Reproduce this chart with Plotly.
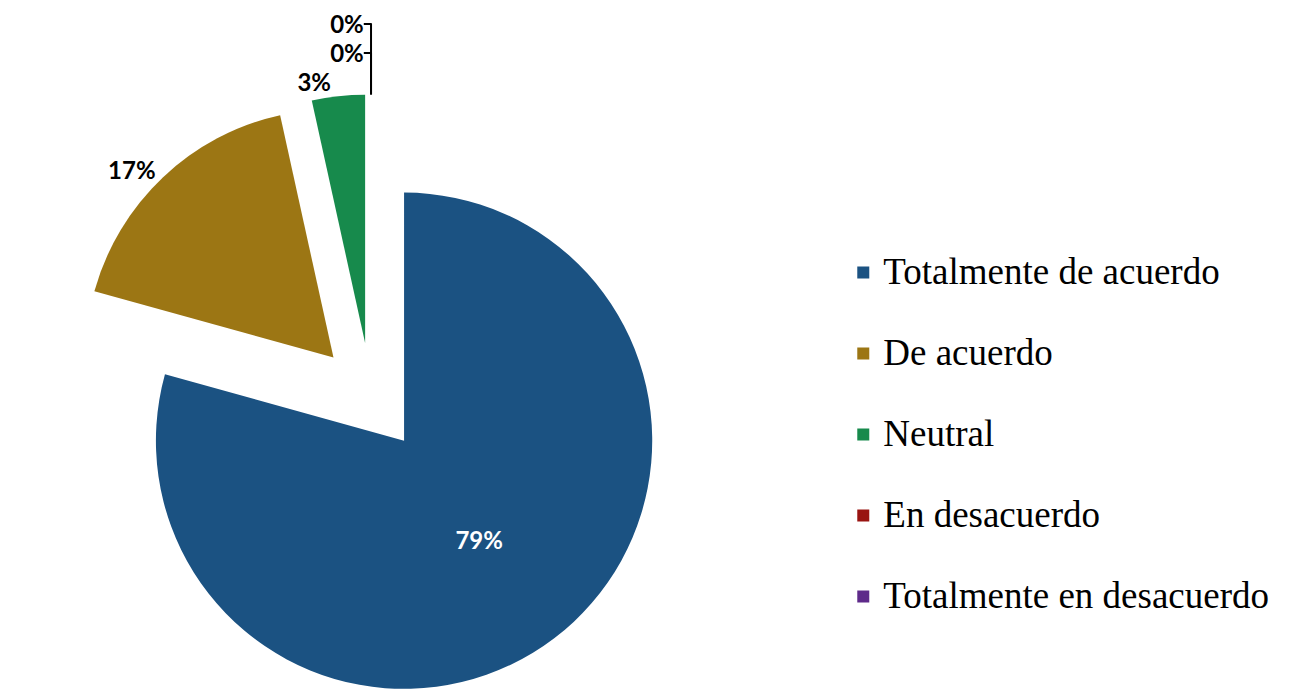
import plotly.graph_objects as go

# Survey answers (29 respondents)
labels = [
    "Totalmente de acuerdo",
    "De acuerdo",
    "Neutral",
    "En desacuerdo",
    "Totalmente en desacuerdo",
]
counts = [23, 5, 1, 0, 0]
slice_colors = ["#1b5282", "#9c7614", "#178a4c", "#991411", "#5e2a8a"]
text_positions = ["inside", "outside", "outside", "outside", "outside"]

# legend rows are spaced by the legend font size, the visible text is smaller
legend_labels = [
    "<span style='font-size:37px;baseline-shift:12px'>%s</span>" % s for s in labels
]

fig = go.Figure(
    go.Pie(
        labels=legend_labels,
        values=counts,
        sort=False,
        direction="clockwise",
        rotation=0,
        pull=[0.22] * len(counts),
        marker=dict(colors=slice_colors, line=dict(width=0)),
        texttemplate="%{percent:.0%}",
        textposition=text_positions,
        insidetextorientation="horizontal",
        insidetextfont=dict(family="Lato", size=24, color="white", weight="bold"),
        outsidetextfont=dict(family="Lato", size=24, color="black", weight="bold"),
        domain=dict(x=[0.0312, 0.5312], y=[0, 0.875]),
        hoverinfo="label+percent",
    )
)

fig.update_layout(
    width=1291,
    height=692,
    margin=dict(l=0, r=0, t=0, b=0, autoexpand=False),
    paper_bgcolor="white",
    plot_bgcolor="white",
    legend=dict(
        x=0.647,
        xanchor="left",
        y=0.3837,
        yanchor="middle",
        font=dict(family="Liberation Serif", size=60, color="black"),
        bgcolor="rgba(0,0,0,0)",
    ),
)

fig.write_html("out.html")
